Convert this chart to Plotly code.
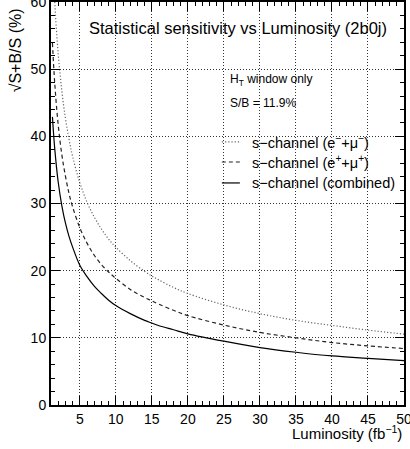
import plotly.graph_objects as go

lumi = [1.2, 1.5, 2, 2.5, 3, 3.5, 4, 5, 6, 7, 8, 9, 10, 12, 14, 15, 16, 18, 20, 25, 30, 35, 40, 45, 50]
emu_minus = [67.6, 60.4, 52.3, 46.8, 42.7, 39.6, 37.0, 33.1, 30.2, 28.0, 26.2, 24.7, 23.5, 21.5, 19.9, 19.2, 18.6, 17.5, 16.6, 14.9, 13.6, 12.6, 11.85, 11.15, 10.55]
emu_plus = [53.9, 48.2, 41.7, 37.3, 34.1, 31.5, 29.5, 26.4, 24.1, 22.3, 20.9, 19.8, 18.85, 17.2, 16.0, 15.5, 15.0, 14.1, 13.3, 11.9, 10.8, 10.0, 9.3, 8.8, 8.4]
combined = [42.9, 38.4, 33.2, 29.7, 27.1, 25.1, 23.5, 20.8, 19.1, 17.7, 16.6, 15.6, 14.8, 13.6, 12.6, 12.2, 11.8, 11.2, 10.6, 9.5, 8.55, 7.85, 7.3, 6.95, 6.6]

series_names = ["s\u2212channel (e<sup>\u2212</sup>+\u03bc<sup>\u2212</sup>)",
                "s\u2212channel (e<sup>+</sup>+\u03bc<sup>+</sup>)",
                "s\u2212channel (combined)"]
series_vals = [emu_minus, emu_plus, combined]
styles = [dict(color="#666666", dash="1.2px,2px", width=1.2),
          dict(color="#222222", dash="4px,3px", width=1.2),
          dict(color="#000000", dash="solid", width=1.2)]

font = "Liberation Sans"
fig = go.Figure()
for name, vals, st in zip(series_names, series_vals, styles):
    fig.add_trace(go.Scatter(x=lumi, y=vals, mode="lines", name=name,
                             line=dict(shape="spline", smoothing=1.0, **st),
                             showlegend=False, cliponaxis=True, hoverinfo="skip"))

ax_common = dict(showline=True, linecolor="black", linewidth=2, mirror="allticks",
                 ticks="inside", tickcolor="black", showgrid=True, gridcolor="#333333",
                 gridwidth=1, griddash="1px,2px", zeroline=False, automargin=False,
                 ticklabeloverflow="allow",
                 tickfont=dict(family=font, size=14, color="black"))

fig.update_xaxes(range=[1, 50], tickvals=[5, 10, 15, 20, 25, 30, 35, 40, 45, 50],
                 ticklen=9, tickwidth=1,
                 minor=dict(dtick=1, tick0=0, ticklen=4, ticks="inside", tickcolor="black", showgrid=False),
                 **ax_common)
fig.update_yaxes(range=[0, 60], dtick=10, tick0=0, ticklen=9, tickwidth=1,
                 minor=dict(dtick=2, tick0=0, ticklen=4, ticks="inside", tickcolor="black", showgrid=False),
                 **ax_common)

ann = []
ann.append(dict(text="Statistical sensitivity vs Luminosity (2b0j)", x=0.53, y=0.935,
                xref="paper", yref="paper", showarrow=False, xanchor="center", yanchor="middle",
                font=dict(family=font, size=16.5, color="black")))
ann.append(dict(text="H<sub>T</sub> window only", x=0.50, y=0.806, xref="paper", yref="paper",
                showarrow=False, xanchor="left", yanchor="middle",
                font=dict(family=font, size=12, color="black")))
ann.append(dict(text="S/B = 11.9%", x=0.50, y=0.749, xref="paper", yref="paper",
                showarrow=False, xanchor="left", yanchor="middle",
                font=dict(family=font, size=12, color="black")))
leg_y = [0.653, 0.603, 0.551]
shapes = []
for name, st, yy in zip(series_names, styles, leg_y):
    ann.append(dict(text=name, x=0.564, y=yy, xref="paper", yref="paper", showarrow=False,
                    xanchor="left", yanchor="middle", font=dict(family=font, size=14.5, color="black")))
    shapes.append(dict(type="line", xref="paper", yref="paper", x0=0.484, x1=0.535, y0=yy, y1=yy,
                       line=st))
ann.append(dict(text="\u221aS+B/S (%)", x=-0.102, y=0.88, xref="paper", yref="paper",
                showarrow=False, textangle=-90, xanchor="center", yanchor="middle",
                font=dict(family=font, size=16, color="black")))
ann.append(dict(text="Luminosity (fb<sup>\u22121</sup>)", x=1.0, y=-0.067, xref="paper", yref="paper",
                showarrow=False, xanchor="right", yanchor="middle",
                font=dict(family=font, size=15, color="black")))

fig.update_layout(width=410, height=449, margin=dict(l=51, r=6, t=2, b=44, autoexpand=False),
                  plot_bgcolor="white", paper_bgcolor="white", hovermode=False,
                  annotations=ann, shapes=shapes, showlegend=False)

fig.write_html("out.html", config={"displayModeBar": False},
               post_script="document.body.style.margin='0';")
